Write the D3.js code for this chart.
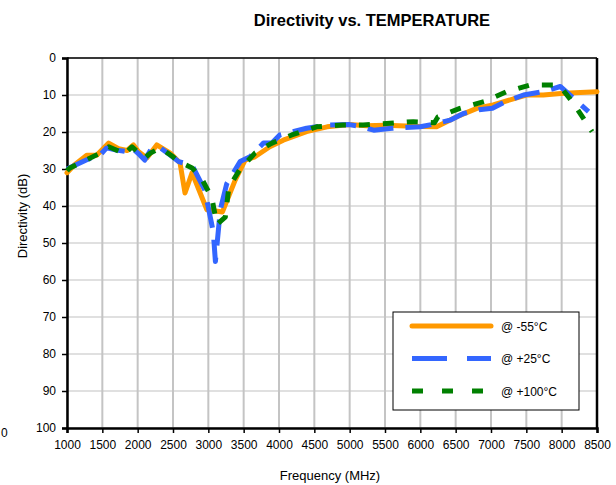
<!DOCTYPE html>
<html>
<head>
<meta charset="utf-8">
<script src="https://cdn.jsdelivr.net/npm/d3@7"></script>
<style>
  html, body { margin: 0; padding: 0; background: #fff; }
  svg { display: block; font-family: "Liberation Sans", Arial, sans-serif; }
</style>
</head>
<body>
<svg id="chart" width="616" height="485"></svg>
<script>
// ---- data ----
const xTicks = [1000,1500,2000,2500,3000,3500,4000,4500,5000,5500,6000,6500,7000,7500,8000,8500];
const yTicks = [0,10,20,30,40,50,60,70,80,90,100];

const freqM55 = [1000,1100,1280,1420,1590,1730,1850,1940,2010,2130,2270,2460,2600,2670,2770,2980,3200,3380,3520,3660,3870,4060,4390,4680,5000,5240,5500,6000,6230,6560,6800,7030,7500,7740,8030,8500];
const dirM55  = [31,29,26.3,26.3,23,24.5,25,23.5,25.3,27,23.5,25.7,28.4,36.5,31,41,41.6,33,27.6,26.7,24,22.2,19.9,18.6,18,18.3,18.2,18.5,18.6,15.5,13.6,12.7,10,10,9.5,9.1];

const freqP25 = [1000,1280,1470,1560,1700,1850,1920,2030,2100,2200,2320,2460,2580,2770,2950,3070,3100,3170,3260,3450,3590,3780,3900,4010,4390,4680,5000,5170,5340,5600,6000,6230,6420,6610,6830,7020,7200,7460,7740,7980,8380];
const dirP25  = [30,27.5,26.2,24.3,24.9,25.3,24.3,26.2,27.6,24.3,24.3,26.2,28,29,35.7,47,55,41,34,28,26.7,23,23,20.8,19,18.1,18,18.6,19.5,19,18.6,17.7,16.8,15,14,13.6,11.8,10,9.1,7.7,14.5];

const freqP100 = [1000,1040,1280,1470,1590,1750,1800,1920,2100,2180,2320,2500,2580,2770,2900,3050,3120,3240,3290,3450,3660,3900,4180,4530,4900,5190,5520,5900,6200,6250,6560,6900,7220,7550,7880,7980,8170,8430];
const dirP100  = [30.5,29.7,27.5,25.7,24,25.3,26.2,24,27,25.7,24.3,26.7,28,29.7,32.4,37.8,45,43,35,30,25.7,23,20.8,18.6,18.1,18.1,17.7,17.2,17.5,15.9,13.6,11.8,9.1,7.3,7.3,7.7,12.3,19.9];

const seriesNames = ["@ -55\u00B0C", "@ +25\u00B0C", "@ +100\u00B0C"];

// ---- layout ----
const svg = d3.select("#chart");
const L = 67, R = 597, T = 58, B = 428;
const x = d3.scaleLinear().domain([1000, 8500]).range([L, R]);
const y = d3.scaleLinear().domain([0, 100]).range([T, B]);

// gridlines
svg.append("g").selectAll("line").data(yTicks).join("line")
  .attr("x1", L).attr("x2", R).attr("y1", d => y(d)).attr("y2", d => y(d))
  .attr("stroke", "#d6d6d6").attr("stroke-width", 1.5);
svg.append("g").selectAll("line").data(xTicks).join("line")
  .attr("x1", d => x(d)).attr("x2", d => x(d)).attr("y1", T).attr("y2", B)
  .attr("stroke", "#c4c4c4").attr("stroke-width", 2);

// frame top/right
svg.append("line").attr("x1", L).attr("x2", R).attr("y1", T).attr("y2", T)
  .attr("stroke", "#000").attr("stroke-width", 1.5);
svg.append("line").attr("x1", R).attr("x2", R).attr("y1", T).attr("y2", B)
  .attr("stroke", "#000").attr("stroke-width", 2.5);

// axes
const yAxis = svg.append("g").attr("transform", `translate(${L},0)`)
  .call(d3.axisLeft(y).tickValues(yTicks).tickSize(5).tickPadding(6));
const xAxis = svg.append("g").attr("transform", `translate(0,${B})`)
  .call(d3.axisBottom(x).tickValues(xTicks).tickFormat(d3.format("d")).tickSize(5).tickPadding(7));
[yAxis, xAxis].forEach(g => {
  g.select(".domain").attr("stroke", "#000").attr("stroke-width", 2.5);
  g.selectAll(".tick line").attr("stroke", "#000").attr("stroke-width", 1.5);
  g.selectAll(".tick text").attr("fill", "#000").attr("font-size", 12)
    .attr("font-family", "Liberation Sans, Arial, sans-serif");
});

// lines
const line = d3.line().x(d => x(d[0])).y(d => y(d[1]));
const mk = (f, v) => f.map((d, i) => [d, v[i]]);
const series = [
  {data: mk(freqM55, dirM55), color: "#ff9900", dash: null},
  {data: mk(freqP25, dirP25), color: "#3366ff", dash: "26,12"},
  {data: mk(freqP100, dirP100), color: "#008000", dash: "11,13"}
];
series.forEach(s => {
  svg.append("path").attr("d", line(s.data)).attr("fill", "none")
    .attr("stroke", s.color).attr("stroke-width", 5)
    .attr("stroke-linejoin", "round")
    .attr("stroke-linecap", s.dash ? "butt" : "round")
    .attr("stroke-dasharray", s.dash);
});

// title & axis titles
svg.append("text").attr("x", 372).attr("y", 26).attr("text-anchor", "middle")
  .attr("font-size", 16.5).attr("font-weight", "bold").text("Directivity vs. TEMPERATURE");
svg.append("text").attr("x", 330).attr("y", 480).attr("text-anchor", "middle")
  .attr("font-size", 13).text("Frequency (MHz)");
svg.append("text").attr("transform", "translate(27,216) rotate(-90)").attr("text-anchor", "middle")
  .attr("font-size", 13).text("Directivity (dB)");
svg.append("text").attr("x", 1).attr("y", 437).attr("font-size", 12).text("0");

// legend
const lg = svg.append("g");
lg.append("rect").attr("x", 393).attr("y", 312).attr("width", 186).attr("height", 98)
  .attr("fill", "#fff").attr("stroke", "#000").attr("stroke-width", 1);
const legDash = [null, "35,20", "11,19"];
seriesNames.forEach((n, i) => {
  const yy = 326 + i * 32.5;
  lg.append("line").attr("x1", 412).attr("x2", 491).attr("y1", yy).attr("y2", yy)
    .attr("stroke", series[i].color).attr("stroke-width", 5)
    .attr("stroke-linecap", i === 0 ? "round" : "butt")
    .attr("stroke-dasharray", legDash[i]);
  lg.append("text").attr("x", 501).attr("y", yy + 4.5).attr("font-size", 12).text(n);
});
</script>
</body>
</html>
